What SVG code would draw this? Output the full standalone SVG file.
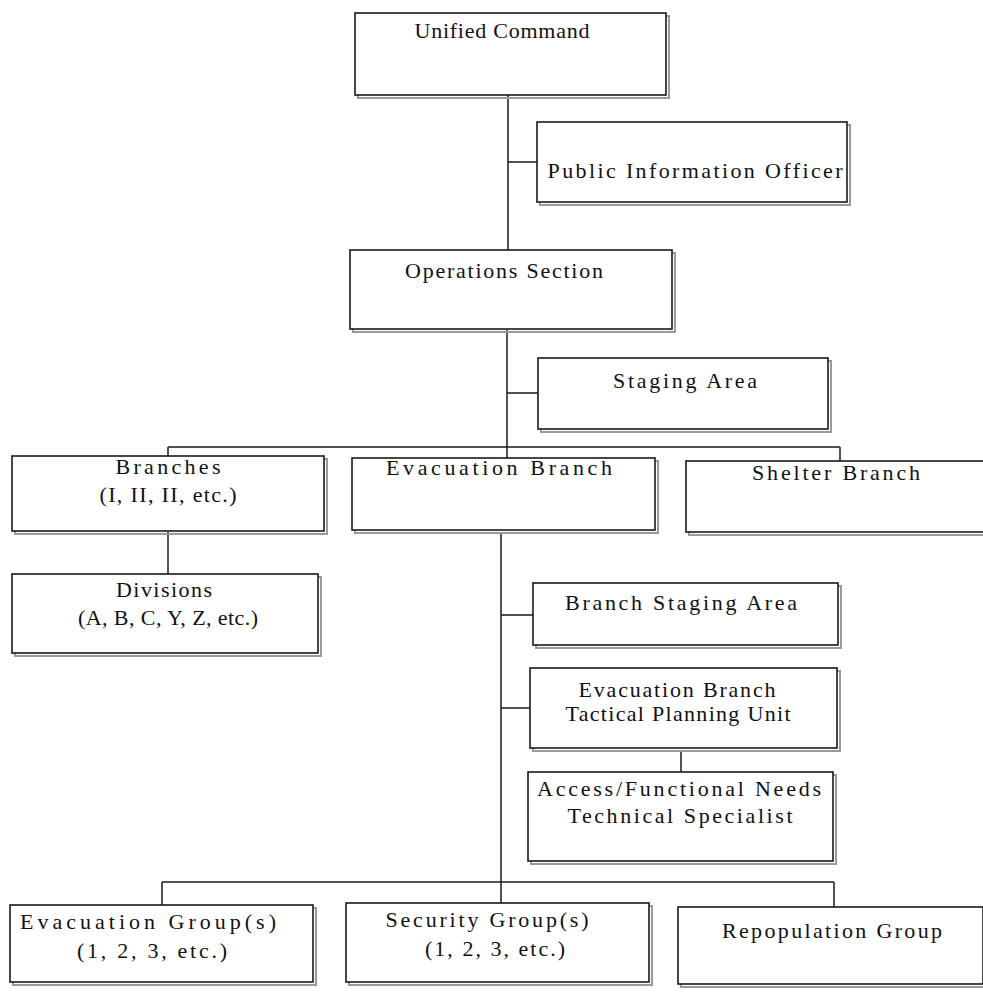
<svg xmlns="http://www.w3.org/2000/svg" width="983" height="996" viewBox="0 0 983 996">
<style>
.bg{fill:#ffffff}
.sh{fill:none;stroke:#9a9a9a;stroke-width:2}
.bx{fill:#ffffff;stroke:#1a1a1a;stroke-width:1.6}
.ln{fill:none;stroke:#1a1a1a;stroke-width:1.5}
.t{font-family:"Liberation Serif","Times New Roman",serif;font-size:22px;fill:#111;text-anchor:middle}
</style>
<rect class="bg" x="0" y="0" width="983" height="996"/>
<g id="connectors">
<path class="ln" d="M508 95 V250 M508 162 H537"/>
<path class="ln" d="M507 330 V458 M507 393 H538"/>
<path class="ln" d="M168 447 H840 M168 447 V456 M840 447 V461"/>
<path class="ln" d="M168 532 V574"/>
<path class="ln" d="M501 532 V903 M501 615 H533 M501 708 H530"/>
<path class="ln" d="M681 750 V772"/>
<path class="ln" d="M162 882 H834 M162 882 V905 M834 882 V907"/>
</g>
<g id="unified-command">
<rect class="sh" x="358" y="16" width="311" height="82"/>
<rect class="bx" x="355" y="13" width="311" height="82"/>
<text class="t" x="502" y="38" textLength="175" lengthAdjust="spacing">Unified Command</text>
</g>
<g id="public-information-officer">
<rect class="sh" x="540" y="125" width="310" height="80"/>
<rect class="bx" x="537" y="122" width="310" height="80"/>
<text class="t" x="695" y="178" textLength="295" lengthAdjust="spacing">Public Information Officer</text>
</g>
<g id="operations-section">
<rect class="sh" x="353" y="253" width="322" height="79"/>
<rect class="bx" x="350" y="250" width="322" height="79"/>
<text class="t" x="504" y="278" textLength="198" lengthAdjust="spacing">Operations Section</text>
</g>
<g id="staging-area">
<rect class="sh" x="541" y="361" width="290" height="71"/>
<rect class="bx" x="538" y="358" width="290" height="71"/>
<text class="t" x="685" y="388" textLength="144" lengthAdjust="spacing">Staging Area</text>
</g>
<g id="branches">
<rect class="sh" x="15" y="459" width="312" height="75"/>
<rect class="bx" x="12" y="456" width="312" height="75"/>
<text class="t" x="168" y="474" textLength="105" lengthAdjust="spacing">Branches</text>
<text class="t" x="168" y="502" textLength="137" lengthAdjust="spacing">(I, II, II, etc.)</text>
</g>
<g id="evacuation-branch">
<rect class="sh" x="355" y="461" width="303" height="72"/>
<rect class="bx" x="352" y="458" width="303" height="72"/>
<text class="t" x="499" y="475" textLength="226" lengthAdjust="spacing">Evacuation Branch</text>
</g>
<g id="shelter-branch">
<rect class="sh" x="689" y="464" width="300" height="71"/>
<rect class="bx" x="686" y="461" width="300" height="71"/>
<text class="t" x="836" y="480" textLength="168" lengthAdjust="spacing">Shelter Branch</text>
</g>
<g id="divisions">
<rect class="sh" x="15" y="577" width="306" height="79"/>
<rect class="bx" x="12" y="574" width="306" height="79"/>
<text class="t" x="164" y="597" textLength="96" lengthAdjust="spacing">Divisions</text>
<text class="t" x="168" y="625" textLength="180" lengthAdjust="spacing">(A, B, C, Y, Z, etc.)</text>
</g>
<g id="branch-staging-area">
<rect class="sh" x="536" y="586" width="305" height="62"/>
<rect class="bx" x="533" y="583" width="305" height="62"/>
<text class="t" x="681" y="610" textLength="232" lengthAdjust="spacing">Branch Staging Area</text>
</g>
<g id="tactical-planning-unit">
<rect class="sh" x="533" y="671" width="307" height="80"/>
<rect class="bx" x="530" y="668" width="307" height="80"/>
<text class="t" x="677" y="697" textLength="197" lengthAdjust="spacing">Evacuation Branch</text>
<text class="t" x="678" y="721" textLength="225" lengthAdjust="spacing">Tactical Planning Unit</text>
</g>
<g id="access-functional-needs">
<rect class="sh" x="531" y="775" width="305" height="89"/>
<rect class="bx" x="528" y="772" width="305" height="89"/>
<text class="t" x="679" y="796" textLength="284" lengthAdjust="spacing">Access/Functional Needs</text>
<text class="t" x="680" y="823" textLength="225" lengthAdjust="spacing">Technical Specialist</text>
</g>
<g id="evacuation-groups">
<rect class="sh" x="13" y="908" width="303" height="77"/>
<rect class="bx" x="10" y="905" width="303" height="77"/>
<text class="t" x="148" y="929" textLength="256" lengthAdjust="spacing">Evacuation Group(s)</text>
<text class="t" x="152" y="958" textLength="150" lengthAdjust="spacing">(1, 2, 3, etc.)</text>
</g>
<g id="security-groups">
<rect class="sh" x="349" y="906" width="303" height="79"/>
<rect class="bx" x="346" y="903" width="303" height="79"/>
<text class="t" x="487" y="927" textLength="203" lengthAdjust="spacing">Security Group(s)</text>
<text class="t" x="495" y="956" textLength="140" lengthAdjust="spacing">(1, 2, 3, etc.)</text>
</g>
<g id="repopulation-group">
<rect class="sh" x="681" y="910" width="305" height="77"/>
<rect class="bx" x="678" y="907" width="305" height="77"/>
<text class="t" x="832" y="938" textLength="220" lengthAdjust="spacing">Repopulation Group</text>
</g>
</svg>
